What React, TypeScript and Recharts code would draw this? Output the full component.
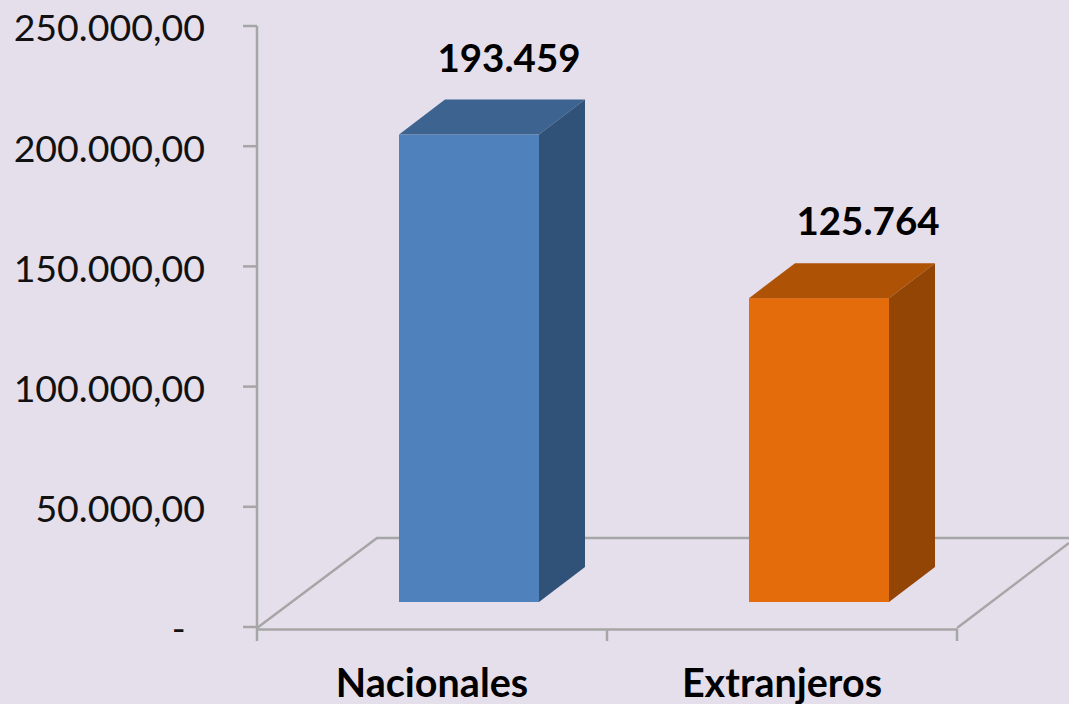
import React from 'react';
import { BarChart, Bar, XAxis, YAxis, LabelList, usePlotArea } from 'recharts';

const categories = ['Nacionales', 'Extranjeros'];
const visitors = [193459, 125764];
const yTicks = [0, 50000, 100000, 150000, 200000, 250000];

const FONT = 'Lato, sans-serif';
const AXIS_GRAY = '#A6A6A6';
const FACES = [
  { front: '#4F81BD', top: '#3D6490', side: '#315278' },
  { front: '#E46C0A', top: '#AE5205', side: '#934506' },
];

// fake 3D depth of the old office chart
const DEPTH_X = 46;
const DEPTH_Y = 35;
const BAR_SHIFT_X = 37;
const BAR_SHIFT_Y = 25;
const HEIGHT_STRETCH = 1.005;

const chartData = categories.map((name, i) => ({ name, value: visitors[i] }));

const formatTick = (v: number) => {
  if (v === 0) return '-\u00A0\u00A0';
  return v.toLocaleString('de-DE', { minimumFractionDigits: 2 });
};

const Floor = () => {
  const plot = usePlotArea();
  if (!plot) return null;
  const left = plot.x;
  const right = plot.x + plot.width;
  const bottom = plot.y + plot.height;
  const backY = bottom - 89;
  return (
    <g fill="none" stroke={AXIS_GRAY} strokeWidth={2.5}>
      <polyline points={`${left},${bottom + 1} ${left + 120},${backY} ${right + 112},${backY}`} />
      <line x1={right} y1={bottom + 1} x2={right + 112} y2={bottom - 84} />
      <line x1={left} y1={bottom + 2.5} x2={right} y2={bottom + 2.5} />
      <line x1={left} y1={bottom} x2={left} y2={bottom + 14} />
      <line x1={left + plot.width / 2} y1={bottom + 2} x2={left + plot.width / 2} y2={bottom + 14} />
      <line x1={right} y1={bottom + 2} x2={right} y2={bottom + 14} />
    </g>
  );
};

const Bar3D = (props: any) => {
  const { x, y, width, height, index } = props;
  const c = FACES[index];
  const l = x + BAR_SHIFT_X;
  const r = l + width;
  const b = y + height - BAR_SHIFT_Y;
  const h = height * HEIGHT_STRETCH;
  const t = b - h;
  return (
    <g>
      <rect x={l} y={t} width={width} height={h} fill={c.front} />
      <polygon
        points={`${l},${t} ${l + DEPTH_X},${t - DEPTH_Y} ${r + DEPTH_X},${t - DEPTH_Y} ${r},${t}`}
        fill={c.top}
      />
      <polygon
        points={`${r},${t} ${r + DEPTH_X},${t - DEPTH_Y} ${r + DEPTH_X},${b - DEPTH_Y} ${r},${b}`}
        fill={c.side}
      />
    </g>
  );
};

const ValueLabel = (props: any) => {
  const { x, y, width, value, index } = props;
  const cx = x + width / 2 + BAR_SHIFT_X + (index === 0 ? 40 : 49);
  return (
    <text
      x={cx}
      y={y - BAR_SHIFT_Y - 80}
      textAnchor="middle"
      dominantBaseline="central"
      fontFamily={FONT}
      fontWeight={700}
      fontSize={38.5}
      fill="#000"
    >
      {value.toLocaleString('de-DE')}
    </text>
  );
};

export default function App() {
  return (
    <div style={{ position: 'fixed', left: 0, top: 0, width: 1069, height: 704, background: '#E5DFEC' }}>
      <BarChart
        width={1069}
        height={704}
        data={chartData}
        margin={{ top: 26, right: 112, bottom: 0, left: 0 }}
        barCategoryGap="30%"
      >
        <Floor />
        <XAxis
          dataKey="name"
          height={77}
          axisLine={false}
          tickLine={false}
          tickMargin={36}
          tick={{ fontFamily: FONT, fontWeight: 700, fontSize: 39.5, fill: '#000' }}
          interval={0}
        />
        <YAxis
          width={257}
          domain={[0, 250000]}
          ticks={yTicks}
          tickFormatter={formatTick}
          axisLine={{ stroke: AXIS_GRAY, strokeWidth: 2.5 }}
          tickLine={{ stroke: AXIS_GRAY, strokeWidth: 2.5 }}
          tickSize={14}
          tickMargin={38}
          dy={2}
          tick={{ fontFamily: FONT, fontSize: 37.5, fill: '#111' }}
          interval={0}
        />
        <Bar dataKey="value" shape={Bar3D} isAnimationActive={false}>
          <LabelList dataKey="value" content={ValueLabel} />
        </Bar>
      </BarChart>
    </div>
  );
}
